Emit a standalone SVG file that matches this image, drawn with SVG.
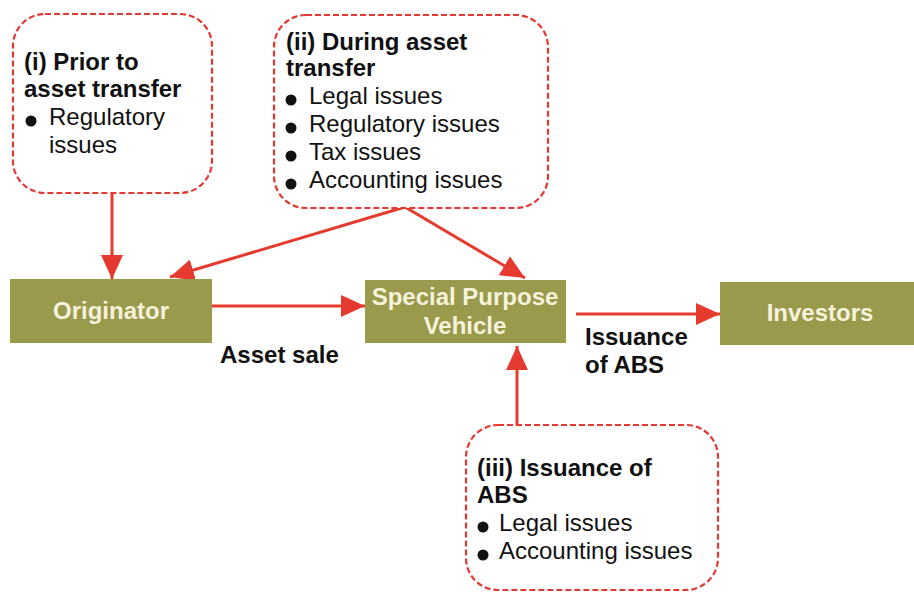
<svg xmlns="http://www.w3.org/2000/svg" width="914" height="592" viewBox="0 0 914 592">
<style>
.note{fill:#ffffff;stroke:#e23a32;stroke-width:2.2;stroke-dasharray:6 3}
.box{fill:#999a4c}
.bt{font-family:"Liberation Sans",Arial,sans-serif;font-weight:bold;font-size:24px;fill:#f6f2dc;text-anchor:middle}
.h{font-family:"Liberation Sans",Arial,sans-serif;font-weight:bold;font-size:24px;fill:#111}
.t{font-family:"Liberation Sans",Arial,sans-serif;font-size:24px;fill:#111}
.lbl{font-family:"Liberation Sans",Arial,sans-serif;font-weight:bold;font-size:24px;fill:#111}
.c{stroke:#e53a2e;stroke-width:3;fill:none;marker-end:url(#ah)}
</style>
<defs>
<marker id="ah" markerUnits="userSpaceOnUse" markerWidth="26" markerHeight="22" refX="24" refY="11" orient="auto">
<path d="M0,0 L24,11 L0,22 Z" fill="#e53a2e"/>
</marker>
</defs>
<rect width="914" height="592" fill="#ffffff"/>
<g id="connectors">
<line class="c" x1="112" y1="194" x2="112" y2="279"/>
<line class="c" x1="405" y1="207" x2="170" y2="277"/>
<line class="c" x1="405" y1="207" x2="525" y2="278"/>
<line class="c" x1="212" y1="306" x2="365" y2="306"/>
<line class="c" x1="576" y1="314" x2="720" y2="314"/>
<line class="c" x1="517" y1="425" x2="517" y2="346"/>
</g>
<g id="note1">
<rect class="note" x="13" y="14" width="199" height="179" rx="32"/>
<text class="h" x="24" y="70">(i) Prior to</text>
<text class="h" x="24" y="97">asset transfer</text>
<circle cx="31" cy="121" r="5.5" fill="#111"/>
<text class="t" x="49" y="125">Regulatory</text>
<text class="t" x="49" y="153">issues</text>
</g>
<g id="note2">
<rect class="note" x="274" y="15" width="274" height="193" rx="32"/>
<text class="h" x="286" y="50">(ii) During asset</text>
<text class="h" x="286" y="76">transfer</text>
<circle cx="291" cy="100" r="5.5" fill="#111"/>
<text class="t" x="309" y="104">Legal issues</text>
<circle cx="291" cy="128" r="5.5" fill="#111"/>
<text class="t" x="309" y="132">Regulatory issues</text>
<circle cx="291" cy="156" r="5.5" fill="#111"/>
<text class="t" x="309" y="160">Tax issues</text>
<circle cx="291" cy="184" r="5.5" fill="#111"/>
<text class="t" x="309" y="188">Accounting issues</text>
</g>
<g id="note3">
<rect class="note" x="466" y="425" width="252" height="165" rx="32"/>
<text class="h" x="477" y="476">(iii) Issuance of</text>
<text class="h" x="477" y="503">ABS</text>
<circle cx="483" cy="527" r="5.5" fill="#111"/>
<text class="t" x="499" y="531">Legal issues</text>
<circle cx="483" cy="555" r="5.5" fill="#111"/>
<text class="t" x="499" y="559">Accounting issues</text>
</g>
<g id="originator">
<rect class="box" x="10" y="279" width="202" height="64"/>
<text class="bt" x="111" y="319">Originator</text>
</g>
<g id="spv">
<rect class="box" x="365" y="280" width="201" height="63"/>
<text class="bt" x="465" y="305">Special Purpose</text>
<text class="bt" x="465" y="334">Vehicle</text>
</g>
<g id="investors">
<rect class="box" x="720" y="282" width="194" height="63"/>
<text class="bt" x="820" y="321">Investors</text>
</g>
<g id="labels">
<text class="lbl" x="220" y="363">Asset sale</text>
<text class="lbl" x="585" y="345">Issuance</text>
<text class="lbl" x="585" y="373">of ABS</text>
</g>
</svg>
